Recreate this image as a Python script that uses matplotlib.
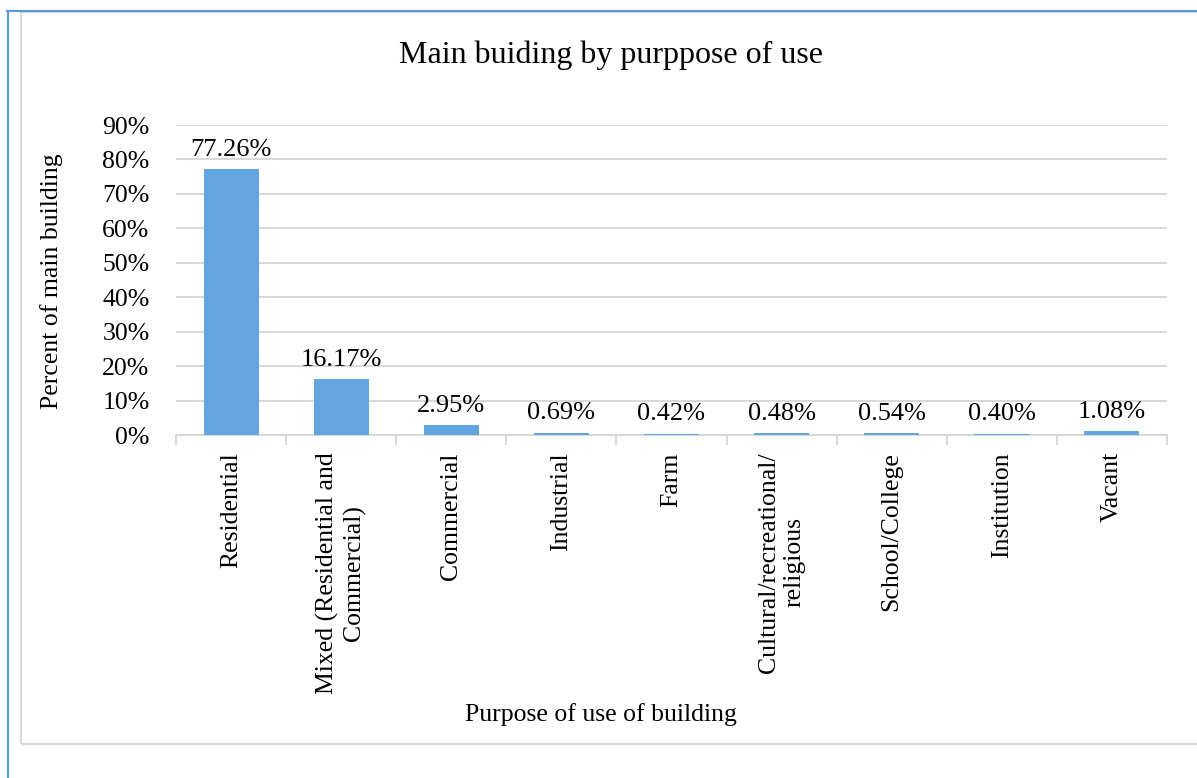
import matplotlib.pyplot as plt
from matplotlib.patches import Rectangle
from matplotlib.lines import Line2D

plt.rcParams['font.family'] = ['Liberation Serif', 'DejaVu Serif']

categories = ['Residential', 'Mixed (Residential and\nCommercial)', 'Commercial', 'Industrial',
              'Farm', 'Cultural/recreational/\nreligious', 'School/College', 'Institution', 'Vacant']
values = [77.26, 16.17, 2.95, 0.69, 0.42, 0.48, 0.54, 0.40, 1.08]
yticks = [0, 10, 20, 30, 40, 50, 60, 70, 80, 90]

W, H = 1197, 778
fig = plt.figure(figsize=(W / 100, H / 100), dpi=100)

# chart frame (gray) and blue selection lines
fig.patches.append(Rectangle((21 / W, 1 - 744 / H), (W - 21) / W + 0.01, (744 - 12) / H,
                             transform=fig.transFigure, fill=False, edgecolor='#D9D9D9', linewidth=1.5))
fig.lines.append(Line2D([7 / W, 1.0], [1 - 11 / H, 1 - 11 / H], transform=fig.transFigure,
                        color='#5B9BD5', linewidth=1.5))
fig.lines.append(Line2D([8 / W, 8 / W], [0, 1 - 11 / H], transform=fig.transFigure,
                        color='#5B9BD5', linewidth=1.5))

ax = fig.add_axes([176 / W, 1 - 435 / H, 991 / W, 310 / H])
x = list(range(len(categories)))
bars = ax.bar(x, values, width=0.5, color='#62A5E0', zorder=3)

for xi, v in zip(x, values):
    ax.annotate(f'{v:.2f}%', (xi, v), xytext=(0, 6), textcoords='offset points',
                ha='center', va='bottom', fontsize=19)

ax.set_xlim(-0.5, len(categories) - 0.5)
ax.set_ylim(0, 90)
ax.set_yticks(yticks)
ax.set_yticklabels([f'{t}%' for t in yticks], fontsize=18.5)
ax.tick_params(axis='y', length=0, pad=19)
ax.grid(axis='y', color='#D9D9D9', linewidth=1.5, zorder=0)

ax.set_xticks([i - 0.5 for i in range(len(categories) + 1)])
ax.set_xticklabels([])
ax.tick_params(axis='x', length=7, color='#D9D9D9', width=1.5)
for xi, c in zip(x, categories):
    ax.text(xi, -5, c, rotation=90, ha='center', va='top', fontsize=18.5,
            multialignment='center', transform=ax.transData)

for s in ['top', 'right', 'left']:
    ax.spines[s].set_visible(False)
ax.spines['bottom'].set_color('#D9D9D9')
ax.spines['bottom'].set_linewidth(1.5)

fig.text(611 / W, 1 - 55 / H, 'Main buiding by purppose of use', ha='center', va='center', fontsize=23)
fig.text(52 / W, 1 - 281 / H, 'Percent of main building', rotation=90, ha='center', va='center', fontsize=18.5)
fig.text(601 / W, 1 - 715 / H, 'Purpose of use of building', ha='center', va='center', fontsize=18.5)

plt.savefig('out.png', dpi=100)
